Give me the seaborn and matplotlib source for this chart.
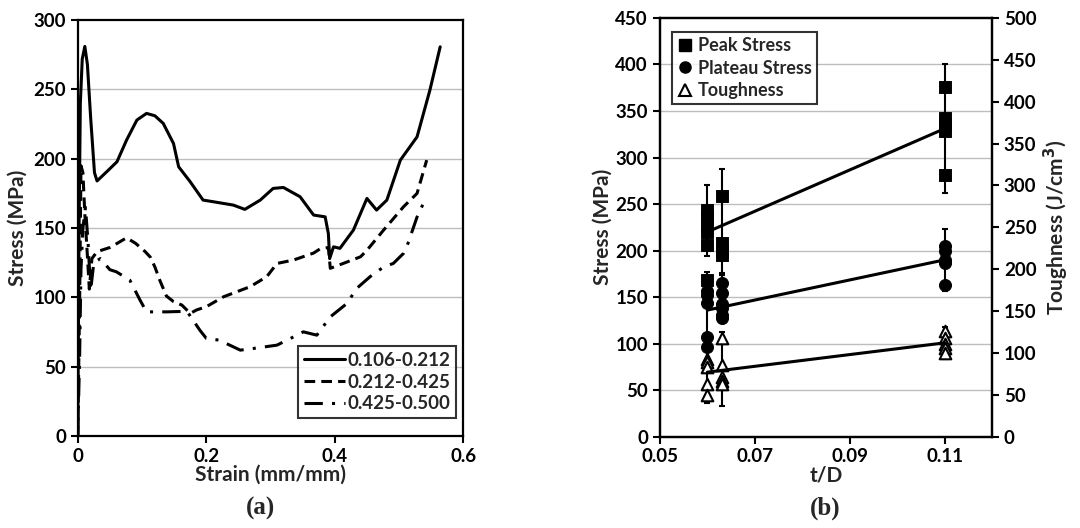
import matplotlib
matplotlib.use("Agg")
import matplotlib.pyplot as plt
import seaborn as sns
import pandas as pd
from matplotlib.lines import Line2D

sns.set_style("white")
plt.rcParams['font.family'] = ['Lato', 'DejaVu Sans']
plt.rcParams['font.weight'] = 'bold'

# (a) stress-strain curves
strain_1 = [0, 0.002, 0.004, 0.007, 0.011, 0.015, 0.02, 0.026, 0.03, 0.045, 0.061, 0.076, 0.092, 0.107,
            0.12, 0.133, 0.149, 0.157, 0.175, 0.195, 0.211, 0.242, 0.26, 0.284, 0.304, 0.32, 0.346, 0.367,
            0.385, 0.39, 0.392, 0.398, 0.408, 0.429, 0.45, 0.465, 0.481, 0.502, 0.528, 0.548, 0.564]
stress_1 = [0, 150, 240, 272, 281, 268, 230, 190, 184, 190.6, 197.8, 213.5, 227.9, 232.7,
            231, 225.5, 211, 194.2, 183.4, 170.2, 169, 166.6, 163.5, 170.2, 178.6, 179.3, 172.6, 159.4,
            158.1, 146, 128, 136.5, 135.4, 148.6, 171.4, 163, 170.2, 199, 215.8, 249.5, 280.7]

strain_2 = [0, 0.003, 0.005, 0.008, 0.011, 0.015, 0.018, 0.022, 0.03, 0.05, 0.065, 0.076, 0.09, 0.105,
            0.113, 0.12, 0.128, 0.138, 0.149, 0.162, 0.175, 0.185, 0.2, 0.227, 0.268, 0.294, 0.31, 0.336,
            0.367, 0.377, 0.39, 0.393, 0.413, 0.44, 0.45, 0.476, 0.507, 0.528, 0.543]
stress_2 = [0, 100, 195, 190, 160, 130, 106, 128, 133, 136, 140, 143, 139, 133,
            129, 122, 112, 101, 97, 94.5, 88.5, 91, 93.3, 100.5, 107.7, 114.9, 124.5, 127,
            132, 135, 136, 121, 124.5, 129.3, 134, 148.6, 165.4, 175, 199]

strain_3 = [0, 0.003, 0.005, 0.008, 0.012, 0.016, 0.02, 0.025, 0.035, 0.05, 0.06, 0.081, 0.097, 0.107,
            0.138, 0.17, 0.19, 0.2, 0.22, 0.253, 0.273, 0.31, 0.336, 0.351, 0.372, 0.393, 0.419, 0.434,
            0.455, 0.476, 0.491, 0.507, 0.512, 0.528, 0.538]
stress_3 = [0, 60, 120, 150, 165, 140, 105, 125, 128, 120, 118.5, 112.5, 98, 89.6,
            89.6, 90, 76.4, 70.5, 69.2, 62, 63.2, 65.6, 71.6, 75.2, 72.8, 86, 95.7, 106.5,
            115, 122, 124.5, 131.8, 136.5, 158, 168]
curve_labels = ['0.106-0.212', '0.212-0.425', '0.425-0.500']

# (b) peak / plateau stress and toughness against t/D
peak_td = [0.06, 0.06, 0.06, 0.06, 0.06, 0.06, 0.063, 0.063, 0.063, 0.063, 0.11, 0.11, 0.11, 0.11, 0.11]
peak_stress = [244, 236, 228, 220, 206, 168, 259, 208, 200, 195, 376, 343, 336, 328, 281]
plateau_td = [0.06, 0.06, 0.06, 0.06, 0.06, 0.063, 0.063, 0.063, 0.063, 0.063, 0.063,
              0.11, 0.11, 0.11, 0.11, 0.11]
plateau_stress = [157, 152, 144, 107, 96, 165, 154, 143, 138, 131, 127, 205, 200, 190, 187, 163]
tough_td = [0.06, 0.06, 0.06, 0.06, 0.06, 0.063, 0.063, 0.063, 0.063, 0.063,
            0.11, 0.11, 0.11, 0.11, 0.11]
toughness = [93, 89, 83, 63, 50, 118, 86, 71, 67, 63, 126, 118, 111, 106, 100]

group_td = [0.06, 0.063, 0.11]
peak_mean = [232, 232, 331]
peak_err = [38, 56, 69]
plateau_mean = [137, 148, 190]
plateau_err = [40, 26, 33]
tough_mean = [76, 81, 112]
tough_err = [36, 44, 19]

fit_td = [0.06, 0.11]
peak_fit = [220, 331]
plateau_fit = [136, 190]
tough_fit = [77, 112]

fig = plt.figure(figsize=(10.8, 5.28), dpi=100)
ax1 = fig.add_axes([0.072, 0.174, 0.357, 0.788])
ax2 = fig.add_axes([0.611, 0.173, 0.3075, 0.793])

grid_c = '#bdbdbd'
tick_fs = 13.5
lab_fs = 15

# ---- (a)
styles = ['-', (0, (3.5, 2)), (0, (6, 3, 1, 3))]
for sx, sy, lab, ls in zip([strain_1, strain_2, strain_3], [stress_1, stress_2, stress_3], curve_labels, styles):
    sns.lineplot(x=sx, y=sy, ax=ax1, color='black', lw=2.2, linestyle=ls, label=lab, sort=False)
ax1.set_xlim(0, 0.6)
ax1.set_ylim(0, 300)
ax1.set_xticks([0, 0.2, 0.4, 0.6])
ax1.set_xticklabels(['0', '0.2', '0.4', '0.6'])
ax1.set_yticks(range(0, 301, 50))
for y in range(50, 300, 50):
    ax1.axhline(y, color=grid_c, lw=1, zorder=0)
ax1.set_xlabel('Strain (mm/mm)', fontsize=lab_fs, fontweight='bold', labelpad=0)
ax1.set_ylabel('Stress (MPa)', fontsize=lab_fs, fontweight='bold', labelpad=4)
leg1 = ax1.legend(loc='lower right', bbox_to_anchor=(0.99, 0.035), frameon=True, fancybox=False,
                  edgecolor='black', fontsize=tick_fs, handlelength=2.2, handletextpad=0.1,
                  borderpad=0.3, labelspacing=0.25, borderaxespad=0.2)
leg1.get_frame().set_linewidth(1.5)

# ---- (b)
ax2b = ax2.twinx()
ax2.errorbar(group_td, peak_mean, yerr=peak_err, fmt='none', ecolor='black', elinewidth=1.5, capsize=2.5, capthick=1.5, zorder=2)
ax2.errorbar(group_td, plateau_mean, yerr=plateau_err, fmt='none', ecolor='black', elinewidth=1.5, capsize=2.5, capthick=1.5, zorder=2)
ax2b.errorbar(group_td, tough_mean, yerr=tough_err, fmt='none', ecolor='black', elinewidth=1.5, capsize=2.5, capthick=1.5, zorder=2)

sns.scatterplot(x=peak_td, y=peak_stress, ax=ax2, marker='s', s=70, color='black', edgecolor='black', zorder=3)
sns.scatterplot(x=plateau_td, y=plateau_stress, ax=ax2, marker='o', s=75, color='black', edgecolor='black', zorder=3)
sns.scatterplot(x=tough_td, y=toughness, ax=ax2b, marker='^', s=70, facecolor='white', edgecolor='black',
                linewidth=1.5, zorder=3)

sns.lineplot(x=fit_td, y=peak_fit, ax=ax2, color='black', lw=2.2, zorder=4)
sns.lineplot(x=fit_td, y=plateau_fit, ax=ax2, color='black', lw=2.2, zorder=4)
sns.lineplot(x=fit_td, y=tough_fit, ax=ax2b, color='black', lw=2.2, zorder=4)

ax2.set_xlim(0.05, 0.12)
ax2.set_ylim(0, 450)
ax2b.set_ylim(0, 500)
ax2.set_xticks([0.05, 0.07, 0.09, 0.11])
ax2.set_xticklabels(['0.05', '0.07', '0.09', '0.11'])
ax2.set_yticks(range(0, 451, 50))
ax2b.set_yticks(range(0, 501, 50))
for y in range(50, 450, 50):
    ax2.axhline(y, color=grid_c, lw=1, zorder=0)
ax2.set_xlabel('t/D', fontsize=lab_fs, fontweight='bold', labelpad=0)
ax2.set_ylabel('Stress (MPa)', fontsize=lab_fs, fontweight='bold', labelpad=2)
ax2b.set_ylabel('Toughness (J/cm$^\\mathbf{3}$)', fontsize=lab_fs, fontweight='bold', labelpad=4)

handles = [Line2D([], [], marker='s', ls='none', color='black', markersize=8),
           Line2D([], [], marker='o', ls='none', color='black', markersize=8),
           Line2D([], [], marker='^', ls='none', markerfacecolor='white', markeredgecolor='black',
                  markeredgewidth=1.5, markersize=8)]
leg2 = ax2.legend(handles, ['Peak Stress', 'Plateau Stress', 'Toughness'], loc='upper left',
                  bbox_to_anchor=(0.038, 0.967), frameon=True, fancybox=False, edgecolor='black',
                  fontsize=13, handlelength=0.8, handletextpad=0.3, borderpad=0.3, labelspacing=0.3,
                  borderaxespad=0)
leg2.get_frame().set_linewidth(1.5)

for ax in [ax1, ax2, ax2b]:
    for sp in ax.spines.values():
        sp.set_color('black')
        sp.set_linewidth(1.6)
    ax.tick_params(direction='out', length=5, width=1.5, labelsize=tick_fs, colors='black')
    for lab in ax.get_xticklabels() + ax.get_yticklabels():
        lab.set_fontweight('bold')
ax1.tick_params(axis='both', which='both', left=True, bottom=True)
ax2.tick_params(axis='both', left=True, bottom=True)
ax2b.tick_params(axis='y', right=True)

fig.text(0.241, 0.025, '(a)', fontsize=18, fontweight='bold', family='Liberation Serif', ha='center')
fig.text(0.764, 0.025, '(b)', fontsize=18, fontweight='bold', family='Liberation Serif', ha='center')

fig.savefig('out.png', dpi=100)
